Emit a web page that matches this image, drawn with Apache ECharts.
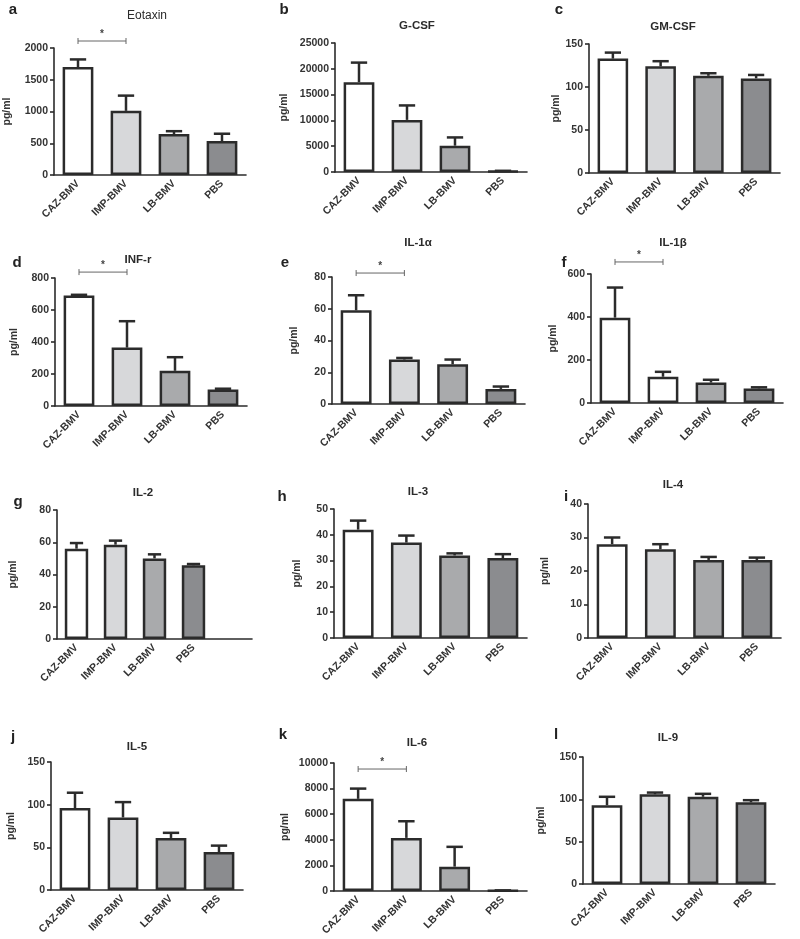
<!DOCTYPE html>
<html><head><meta charset="utf-8">
<script src="https://cdn.jsdelivr.net/npm/echarts@6/dist/echarts.min.js"></script>
<style>html,body{margin:0;padding:0;background:#fff}#c{width:800px;height:939px}</style>
</head><body><div id="c"></div>
<script>
// ---------- data ----------
const categories = ['CAZ-BMV', 'IMP-BMV', 'LB-BMV', 'PBS'];
const categoriesIL2 = ['CAZ-BMV', 'IMP-BMV', 'LB-BMV', 'PBS', ''];
const panelLetters = ['a', 'b', 'c', 'd', 'e', 'f', 'g', 'h', 'i', 'j', 'k', 'l'];
const panelTitles = ['Eotaxin', 'G-CSF', 'GM-CSF', 'INF-r', 'IL-1α', 'IL-1β', 'IL-2', 'IL-3', 'IL-4', 'IL-5', 'IL-6', 'IL-9'];
const yMax = [2000, 25000, 150, 800, 80, 600, 80, 50, 40, 150, 10000, 150];
const yInterval = [500, 5000, 50, 200, 20, 200, 20, 10, 10, 50, 2000, 50];

const eotaxinMean = [1700, 1010, 645, 535];   const eotaxinUpper = [1820, 1250, 690, 650];
const gcsfMean = [17400, 10100, 5100, 150];   const gcsfUpper = [21200, 12900, 6700, 230];
const gmcsfMean = [133, 124, 113, 110];       const gmcsfUpper = [140, 130, 116, 114];
const infrMean = [690, 365, 220, 103];        const infrUpper = [695, 530, 305, 108];
const il1aMean = [59, 28, 25, 9.5];           const il1aUpper = [68.5, 29, 28, 11];
const il1bMean = [397, 122, 95, 68];          const il1bUpper = [537, 145, 108, 73];
const il2Mean = [56, 58.5, 50, 45.7];         const il2Upper = [59.5, 61, 52.5, 46.5];
const il3Mean = [42, 37, 32, 31];             const il3Upper = [45.5, 39.7, 32.8, 32.5];
const il4Mean = [28, 26.5, 23.3, 23.3];       const il4Upper = [30, 28, 24.2, 24];
const il5Mean = [96, 85, 61, 44.5];           const il5Upper = [114, 103, 67, 52];
const il6Mean = [7200, 4150, 1900, 30];       const il6Upper = [8000, 5450, 3450, 50];
const il9Mean = [93, 106, 103, 96.5];         const il9Upper = [103, 108, 106.5, 99];

// significance brackets: panel index, from category, to category, height (pg/ml)
const sigPanel = [0, 3, 4, 5, 10];
const sigFrom = [0, 0, 0, 0, 0];
const sigTo = [1, 1, 1, 1, 1];
const sigHeight = [2110, 837, 82.5, 656, 9530];

const allMeans = [eotaxinMean, gcsfMean, gmcsfMean, infrMean, il1aMean, il1bMean, il2Mean, il3Mean, il4Mean, il5Mean, il6Mean, il9Mean];
const allUppers = [eotaxinUpper, gcsfUpper, gmcsfUpper, infrUpper, il1aUpper, il1bUpper, il2Upper, il3Upper, il4Upper, il5Upper, il6Upper, il9Upper];

// ---------- layout & style ----------
const grids = [
  [54, 48, 192, 127], [335, 43, 192, 129], [589, 44, 191, 129],
  [55, 278, 192, 128], [332, 277, 193, 127], [591, 274, 192, 129],
  [57, 510, 195, 129], [334, 509, 193, 129], [588, 504, 193, 134],
  [51, 762, 192, 128], [334, 763, 193, 128], [583, 757, 192, 127]
];
const titlePos = [[147, 16], [417, 26], [673, 27], [138, 260], [418, 243], [673, 243],
  [143, 493], [418, 492], [673, 485], [137, 747], [417, 743], [668, 738]];
const letterPos = [[13, 10], [284, 10], [559, 10], [17, 263], [285, 263], [564, 263],
  [18, 502], [282, 497], [566, 497], [13, 737], [283, 735], [556, 735]];
const nameGaps = [41, 45, 21, 35, 32, 32, 38, 31, 37, 34, 43, 36];
const defaultFills = ['#ffffff', '#d7d8da', '#a9aaac', '#8b8c8f'];
const il1bFills = ['#ffffff', '#ffffff', '#a9aaac', '#8b8c8f'];
const ink = '#2b2b2b';
const FONT = 'Liberation Sans, Arial, sans-serif';

const option = { animation: false, backgroundColor: '#fff', grid: [], xAxis: [], yAxis: [], series: [], graphic: [] };

for (let p = 0; p < 12; p++) {
  const g = grids[p];
  const cats = p === 6 ? categoriesIL2 : categories;
  option.grid.push({ left: g[0], top: g[1], width: g[2], height: g[3], containLabel: false });
  option.xAxis.push({
    gridIndex: p, type: 'category', data: cats,
    axisLine: { lineStyle: { color: ink, width: 1.6 } },
    axisTick: { alignWithLabel: true, interval: 0, length: 4, lineStyle: { color: ink, width: 1.6 } },
    axisLabel: { rotate: 45, interval: 0, margin: 7, color: '#333', fontFamily: FONT, fontWeight: 'bold', fontSize: 10.5 },
    splitLine: { show: false }
  });
  option.yAxis.push({
    gridIndex: p, type: 'value', min: 0, max: yMax[p], interval: yInterval[p],
    name: 'pg/ml', nameLocation: 'middle', nameGap: nameGaps[p],
    nameTextStyle: { color: '#333', fontFamily: FONT, fontWeight: 'bold', fontSize: 10.5 },
    axisLine: { show: true, lineStyle: { color: ink, width: 1.6 } },
    axisTick: { show: true, length: 4, lineStyle: { color: ink, width: 1.6 } },
    axisLabel: { margin: 6, color: '#333', fontFamily: FONT, fontWeight: 'bold', fontSize: 10.5,
      formatter: v => String(v) },
    splitLine: { show: false }
  });
  const fills = p === 5 ? il1bFills : defaultFills;
  option.series.push({
    type: 'bar', xAxisIndex: p, yAxisIndex: p,
    barCategoryGap: p === 6 ? '40%' : '36%',
    data: allMeans[p].map((v, i) => ({ value: v, itemStyle: { color: fills[i] } })),
    itemStyle: { borderColor: ink, borderWidth: 2.5 },
    z: 2
  });
  option.series.push({
    type: 'custom', xAxisIndex: p, yAxisIndex: p, z: 3,
    encode: { x: 0, y: [1, 2] },
    data: allMeans[p].map((v, i) => [i, v, allUppers[p][i]]),
    renderItem: function (params, api) {
      const a = api.coord([api.value(0), api.value(1)]);
      const b = api.coord([api.value(0), api.value(2)]);
      const half = api.size([1, 0])[0] * 0.17;
      return { type: 'group', children: [
        { type: 'line', shape: { x1: a[0], y1: a[1], x2: b[0], y2: b[1] }, style: { stroke: ink, lineWidth: 2.5 } },
        { type: 'line', shape: { x1: b[0] - half, y1: b[1], x2: b[0] + half, y2: b[1] }, style: { stroke: ink, lineWidth: 2.5 } }
      ] };
    }
  });
  option.graphic.push({ type: 'text', position: [titlePos[p][0], titlePos[p][1]], silent: true,
    style: { text: panelTitles[p], textAlign: 'center', textVerticalAlign: 'middle',
      font: (p === 0 ? 'normal 12px ' : 'bold 11.5px ') + FONT, fill: '#2b2b2b' } });
  option.graphic.push({ type: 'text', position: [letterPos[p][0], letterPos[p][1]], silent: true,
    style: { text: panelLetters[p], textAlign: 'center', textVerticalAlign: 'middle',
      font: 'bold 15px ' + FONT, fill: '#222' } });
}

// significance brackets
sigPanel.forEach((p, k) => {
  option.series.push({
    type: 'custom', xAxisIndex: p, yAxisIndex: p, z: 4, clip: false,
    encode: { x: [0, 1], y: 2 },
    data: [[sigFrom[k], sigTo[k], sigHeight[k]]],
    renderItem: function (params, api) {
      const a = api.coord([api.value(0), api.value(2)]);
      const b = api.coord([api.value(1), api.value(2)]);
      const c = '#666';
      return { type: 'group', children: [
        { type: 'line', shape: { x1: a[0], y1: a[1], x2: b[0], y2: b[1] }, style: { stroke: c, lineWidth: 1 } },
        { type: 'line', shape: { x1: a[0], y1: a[1] - 3, x2: a[0], y2: a[1] + 3 }, style: { stroke: c, lineWidth: 1 } },
        { type: 'line', shape: { x1: b[0], y1: b[1] - 3, x2: b[0], y2: b[1] + 3 }, style: { stroke: c, lineWidth: 1 } },
        { type: 'text', style: { text: '*', x: (a[0] + b[0]) / 2, y: a[1] - 2, textAlign: 'center', textVerticalAlign: 'bottom',
          font: 'bold 10px ' + FONT, fill: '#444' } }
      ] };
    }
  });
});

const chart = echarts.init(document.getElementById('c'), null, { renderer: 'canvas' });
chart.setOption(option);
</script>
</body></html>
